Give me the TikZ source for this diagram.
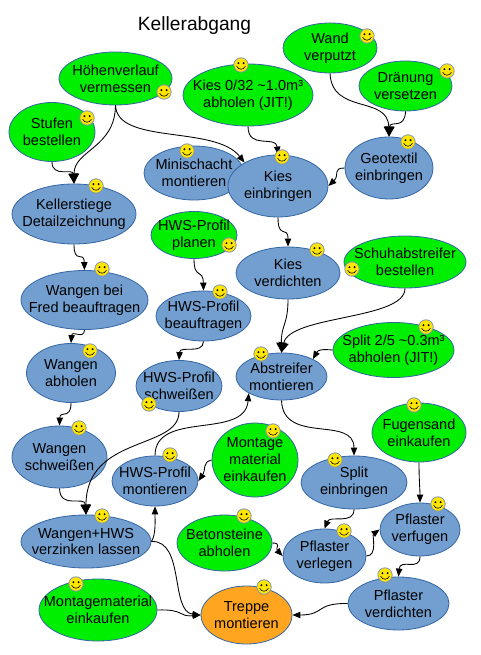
\documentclass[tikz,border=0pt]{standalone}
\usepackage{fontspec}
\setmainfont{Liberation Sans}
\usepackage{tikz}
\usetikzlibrary{arrows.meta,shapes.geometric}

\definecolor{taskgreen}{HTML}{00EE00}
\definecolor{taskblue}{HTML}{729FCF}
\definecolor{taskorange}{HTML}{FFA51F}
\definecolor{taskline}{HTML}{3465A4}
\definecolor{smileyfill}{HTML}{FFE600}
\definecolor{smileyline}{HTML}{7F93B2}

\begin{document}
\begin{tikzpicture}[
  x=0.75pt, y=-0.75pt,
  task/.style={draw=taskline, ellipse, inner sep=-30pt, align=center, line width=0.6pt,
    font=\fontsize{10.9}{12.7}\selectfont},
  done/.style={task, fill=taskgreen},
  open/.style={task, fill=taskblue},
  goal/.style={task, fill=taskorange},
  dim/.style 2 args={minimum width=#1*0.75pt, minimum height=#2*0.75pt},
  arr/.style={-{Triangle[length=6pt,width=4.8pt]}, line width=0.65pt},
  arrbig/.style={-{Triangle[length=7.5pt,width=7.5pt]}, line width=0.65pt},
  smiley/.pic={
    \path[fill=smileyfill, draw=smileyline, line width=0.6pt] (0,0) circle (7.2);
    \fill (-2.6,-1.8) circle (1.1);
    \fill (2.6,-1.8) circle (1.1);
    \draw[line width=0.45pt] (-4.4,1.2) .. controls (-2.5,5.2) and (2.5,5.2) .. (4.4,1.2);
  }
]
  \useasboundingbox (0,0) rectangle (480,655);

  \node[font=\fontsize{14.4}{16}\selectfont] (title) at (194.5,26) {Kellerabgang};

  % tasks
  \node[done, dim={113}{53}] (hoehen) at (115.5,78.5) {Höhenverlauf\\vermessen};
  \node[done, dim={86}{59}] (stufen) at (52,132) {Stufen\\bestellen};
  \node[done, dim={130}{62}] (kiesholen) at (248,95) {Kies 0/32 \textasciitilde1.0m³\\abholen (JIT!)};
  \node[done, dim={94}{50}] (wand) at (330,48) {Wand\\verputzt};
  \node[done, dim={93}{50}] (draenung) at (405.5,86) {Dränung\\versetzen};
  \node[open, dim={88}{62}] (geotextil) at (389,168) {Geotextil\\einbringen};
  \node[open, dim={100}{54}] (minischacht) at (194,173) {Minischacht\\montieren};
  \node[open, dim={100}{62}] (kieseinb) at (278,186) {Kies\\einbringen};
  \node[open, dim={124}{60}] (detail) at (74,214) {Kellerstiege\\Detailzeichnung};
  \node[open, dim={127}{59}] (fred) at (84.5,300) {Wangen bei\\Fred beauftragen};
  \node[open, dim={89}{59}] (abholen) at (71,373) {Wangen\\abholen};
  \node[done, dim={86}{47}] (hwsplan) at (194,235) {HWS-Profil\\planen};
  \node[open, dim={95}{50}] (hwsbeauf) at (203.5,316) {HWS-Profil\\beauftragen};
  \node[open, dim={86}{51}] (hwsschw) at (179,386) {HWS-Profil\\schweißen};
  \node[open, dim={104}{52}] (kiesverd) at (288,273) {Kies\\verdichten};
  \node[done, dim={122}{52}] (schuh) at (405,262) {Schuhabstreifer\\bestellen};
  \node[done, dim={121}{55}] (splitholen) at (393.5,350) {Split 2/5 \textasciitilde0.3m³\\abholen (JIT!)};
  \node[open, dim={91}{47}] (abstreifer) at (281.5,376.5) {Abstreifer\\montieren};
  \node[open, dim={95}{62}] (schweissen) at (59.5,457) {Wangen\\schweißen};
  \node[open, dim={86}{50}] (hwsmont) at (155,481) {HWS-Profil\\montieren};
  \node[done, dim={86}{74}] (matmont) at (255,460) {Montage\\material\\einkaufen};
  \node[open, dim={130}{53}] (verzinken) at (86,541.5) {Wangen+HWS\\verzinken lassen};
  \node[done, dim={118}{62}] (montmat) at (98,610) {Montagematerial\\einkaufen};
  \node[done, dim={95}{56}] (beton) at (224.5,543) {Betonsteine\\abholen};
  \node[goal, dim={91}{58}] (treppe) at (246.5,615) {Treppe\\montieren};
  \node[open, dim={106}{53}] (spliteinb) at (354,482.5) {Split\\einbringen};
  \node[open, dim={83}{54}] (verlegen) at (324.5,556) {Pflaster\\verlegen};
  \node[done, dim={94}{59}] (fugensand) at (419,432.5) {Fugensand\\einkaufen};
  \node[open, dim={80}{53}] (verfugen) at (420,529.5) {Pflaster\\verfugen};
  \node[open, dim={101}{53}] (verdichten) at (398.5,603.5) {Pflaster\\verdichten};

  % dependencies
  \draw[arrbig] (stufen.south) .. controls (52,178) and (73,168) .. (detail.north);
  \draw[arrbig] (hoehen.south) .. controls (115,148) and (74,150) .. (detail.north);
  \draw[arr] (hoehen.south) .. controls (117,145) and (215,125) .. (kieseinb.145);
  \draw[arr] (kiesholen.south) .. controls (248,150) and (276,135) .. (kieseinb.north);
  \draw[arrbig] (wand.south) .. controls (332,115) and (388,95) .. (geotextil.north);
  \draw[arrbig] (draenung.south) .. controls (405,130) and (390,120) .. (geotextil.north);
  \draw[arr] (geotextil.west) .. controls (332,168) and (340,175) .. (kieseinb.east);
  \draw[arr] (detail.south) .. controls (74,265) and (84,250) .. (fred.north);
  \draw[arr] (fred.south) .. controls (84,340) and (72,330) .. (abholen.north);
  \draw[arr] (abholen.south) .. controls (71,420) and (60,410) .. (schweissen.north);
  \draw[arr] (hwsplan.south) .. controls (194,280) and (203,268) .. (hwsbeauf.north);
  \draw[arr] (hwsbeauf.south) .. controls (203,355) and (180,345) .. (hwsschw.north);
  \draw[arrbig] (hwsschw.south) .. controls (179,450) and (86,435) .. (verzinken.north);
  \draw[arrbig] (schweissen.south) .. controls (60,510) and (85,495) .. (verzinken.north);
  \draw[arr] (verzinken.east) .. controls (156,535) and (155,520) .. (hwsmont.south);
  \draw[arr] (verzinken.east) .. controls (185,540) and (170,612) .. (treppe.west);
  \draw[arr] (montmat.east) .. controls (185,609) and (178,617) .. (treppe.west);
  \draw[arr] (hwsmont.north) .. controls (155,410) and (245,440) .. (abstreifer.207);
  \draw[arr] (matmont.west) .. controls (202,462) and (206,470) .. (hwsmont.east);
  \draw[arr] (kieseinb.south) .. controls (278,240) and (288,225) .. (kiesverd.north);
  \draw[arrbig] (kiesverd.south) .. controls (288,325) and (281,325) .. (abstreifer.north);
  \draw[arrbig] (schuh.south) .. controls (405,320) and (290,315) .. (abstreifer.north);
  \draw[arr] (splitholen.west) .. controls (322,349) and (318,350) .. (abstreifer.29);
  \draw[arr] (abstreifer.south) .. controls (283,445) and (354,415) .. (spliteinb.north);
  \draw[arr] (spliteinb.south) .. controls (354,525) and (330,515) .. (verlegen.north);
  \draw[arr] (beton.east) .. controls (282,543) and (275,548) .. (verlegen.west);
  \draw[arr] (verlegen.east) .. controls (378,556) and (372,535) .. (verfugen.west);
  \draw[arr] (fugensand.south) .. controls (419,480) and (420,490) .. (verfugen.north);
  \draw[arr] (verfugen.south) .. controls (420,572) and (400,558) .. (verdichten.north);
  \draw[arr] (verdichten.west) .. controls (315,603) and (325,615) .. (treppe.east);

  % smileys
  \foreach \sx/\sy in {164/92, 87/118, 241/65, 367/36, 447/71, 408/142, 282/157, 187/151,
    96/186, 102/269, 90/351, 229/245, 220/292, 149/404, 317/250, 352/269, 426/327, 261/354,
    79/428, 170/455, 273/431, 102/516, 76/584, 244/516, 264/587, 335/460, 344/531, 414/405,
    438/504, 385/575}
    \pic at (\sx,\sy) {smiley};
\end{tikzpicture}
\end{document}
